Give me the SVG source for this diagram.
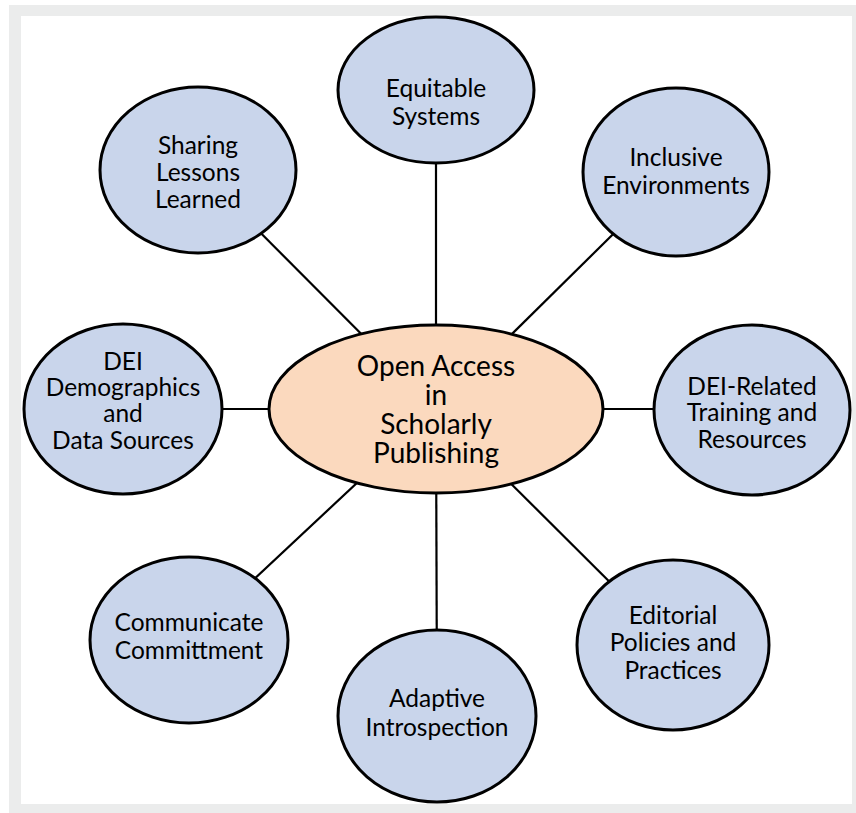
<svg xmlns="http://www.w3.org/2000/svg" width="856" height="813" viewBox="0 0 856 813">
<style>
.sat{fill:#c9d5eb;stroke:#000;stroke-width:3}
.hub{fill:#fbd9be;stroke:#000;stroke-width:3}
.lbl{font-family:Lato,"Open Sans","Liberation Sans",sans-serif;font-size:24.5px;fill:#000;text-anchor:middle;dominant-baseline:central}
.hlbl{font-family:Lato,"Open Sans","Liberation Sans",sans-serif;font-size:28px;fill:#000;text-anchor:middle;dominant-baseline:central}
.con{stroke:#000;stroke-width:2.2;fill:none}
</style>
<rect x="0" y="0" width="856" height="813" fill="#ffffff"/>
<rect x="9" y="5" width="847" height="808" fill="#ebecec"/>
<rect x="21" y="16" width="831" height="788" fill="#ffffff"/>
<g id="connectors">
<line class="con" x1="436" y1="409" x2="436" y2="93"/>
<line class="con" x1="436" y1="409" x2="676" y2="172"/>
<line class="con" x1="436" y1="409" x2="198" y2="170"/>
<line class="con" x1="436" y1="409" x2="123" y2="409"/>
<line class="con" x1="436" y1="409" x2="752" y2="409"/>
<line class="con" x1="436" y1="409" x2="189" y2="640"/>
<line class="con" x1="436" y1="409" x2="437" y2="716"/>
<line class="con" x1="436" y1="409" x2="673" y2="645"/>
</g>
<g id="equitable">
<ellipse class="sat" cx="436" cy="90" rx="98" ry="73"/>
<text class="lbl" x="436" y="87">Equitable</text>
<text class="lbl" x="436" y="115">Systems</text>
</g>
<g id="inclusive">
<ellipse class="sat" cx="676" cy="172" rx="93" ry="84"/>
<text class="lbl" x="676" y="156">Inclusive</text>
<text class="lbl" x="676" y="184">Environments</text>
</g>
<g id="sharing">
<ellipse class="sat" cx="198" cy="170" rx="98" ry="83"/>
<text class="lbl" x="198" y="144">Sharing</text>
<text class="lbl" x="198" y="171">Lessons</text>
<text class="lbl" x="198" y="198">Learned</text>
</g>
<g id="dei-demographics">
<ellipse class="sat" cx="123" cy="409" rx="99" ry="85"/>
<text class="lbl" x="123" y="360">DEI</text>
<text class="lbl" x="123" y="386">Demographics</text>
<text class="lbl" x="123" y="412">and</text>
<text class="lbl" x="123" y="439">Data Sources</text>
</g>
<g id="dei-training">
<ellipse class="sat" cx="752" cy="410" rx="98" ry="85"/>
<text class="lbl" x="752" y="385">DEI-Related</text>
<text class="lbl" x="752" y="411">Training and</text>
<text class="lbl" x="752" y="438">Resources</text>
</g>
<g id="communicate">
<ellipse class="sat" cx="189" cy="640" rx="99" ry="83"/>
<text class="lbl" x="189" y="621">Communicate</text>
<text class="lbl" x="189" y="649">Committment</text>
</g>
<g id="adaptive">
<ellipse class="sat" cx="437" cy="716" rx="99" ry="86"/>
<text class="lbl" x="437" y="697">Adaptive</text>
<text class="lbl" x="437" y="726">Introspection</text>
</g>
<g id="editorial">
<ellipse class="sat" cx="673" cy="645" rx="96" ry="85"/>
<text class="lbl" x="673" y="614">Editorial</text>
<text class="lbl" x="673" y="641">Policies and</text>
<text class="lbl" x="673" y="669">Practices</text>
</g>
<g id="hub">
<ellipse class="hub" cx="436" cy="409" rx="167" ry="84"/>
<text class="hlbl" x="436" y="365">Open Access</text>
<text class="hlbl" x="436" y="394">in</text>
<text class="hlbl" x="436" y="423">Scholarly</text>
<text class="hlbl" x="436" y="452">Publishing</text>
</g>
</svg>
